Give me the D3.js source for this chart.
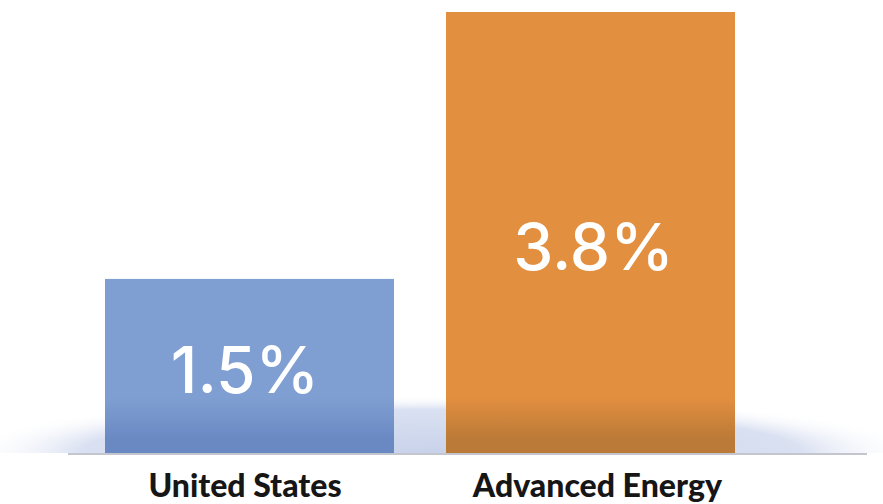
<!DOCTYPE html>
<html>
<head>
<meta charset="utf-8">
<script src="https://cdn.jsdelivr.net/npm/d3@7"></script>
<style>
  body { margin: 0; background: #fff; }
  svg { display: block; }
</style>
</head>
<body>
<div id="chart"></div>
<script>
var categories = ["United States", "Advanced Energy"];
var values = [1.5, 3.8];
var labels = ["1.5%", "3.8%"];
var colors = ["#7f9fd2", "#e28f40"];
var darkColors = ["#6a89c3", "#bb7a37"];

var width = 883, height = 504,
    baseline = 453;

var svg = d3.select("#chart").append("svg")
    .attr("width", width)
    .attr("height", height);

var defs = svg.append("defs");

// soft bluish glow along the floor
var glow = defs.append("radialGradient")
    .attr("id", "glow")
    .attr("cx", "50%").attr("cy", "50%").attr("r", "50%");
glow.append("stop").attr("offset", "0%").attr("stop-color", "#c8d2ea").attr("stop-opacity", 1);
glow.append("stop").attr("offset", "75%").attr("stop-color", "#d3dbef").attr("stop-opacity", 0.85);
glow.append("stop").attr("offset", "100%").attr("stop-color", "#ffffff").attr("stop-opacity", 0);

colors.forEach(function(c, i) {
  var lg = defs.append("linearGradient")
      .attr("id", "bar" + i)
      .attr("gradientUnits", "userSpaceOnUse")
      .attr("x1", 0).attr("x2", 0)
      .attr("y1", 398).attr("y2", baseline);
  lg.append("stop").attr("offset", "0%").attr("stop-color", c);
  lg.append("stop").attr("offset", "75%").attr("stop-color", darkColors[i]);
  lg.append("stop").attr("offset", "100%").attr("stop-color", darkColors[i]);
});

var x = d3.scaleBand()
    .domain(categories)
    .range([68, 772])
    .paddingInner(0.1525)
    .paddingOuter(0.1085);

var y = d3.scaleLinear()
    .domain([0, 3.8])
    .range([baseline, 12]);

// labels aren't quite centred on the bars in the original
var nudge = [-4.5, 3];

svg.append("ellipse")
    .attr("cx", width / 2)
    .attr("cy", baseline)
    .attr("rx", 480)
    .attr("ry", 58)
    .attr("fill", "url(#glow)");

svg.append("rect")
    .attr("x", 0).attr("y", baseline)
    .attr("width", width).attr("height", height - baseline)
    .attr("fill", "#fff");

svg.selectAll(".bar")
    .data(values)
  .enter().append("rect")
    .attr("class", "bar")
    .attr("x", function(d, i) { return x(categories[i]); })
    .attr("y", function(d) { return y(d); })
    .attr("width", x.bandwidth())
    .attr("height", function(d) { return y(0) - y(d); })
    .attr("fill", function(d, i) { return "url(#bar" + i + ")"; });

svg.append("line")
    .attr("x1", 68).attr("x2", 867)
    .attr("y1", baseline + 1).attr("y2", baseline + 1)
    .attr("stroke", "#c3c6ce")
    .attr("stroke-width", 2);

svg.selectAll(".value")
    .data(values)
  .enter().append("text")
    .attr("class", "value")
    .attr("x", function(d, i) { return x(categories[i]) + x.bandwidth() / 2 + nudge[i]; })
    .attr("y", function(d, i) { return i === 0 ? 393 : 270; })
    .attr("text-anchor", "middle")
    .attr("fill", "#fff")
    .style("font-family", "Inter, Lato, sans-serif")
    .style("font-weight", "500")
    .style("font-size", "64px")
    .text(function(d, i) { return labels[i]; });

svg.selectAll(".cat")
    .data(categories)
  .enter().append("text")
    .attr("class", "cat")
    .attr("x", function(d, i) { return x(d) + x.bandwidth() / 2 + nudge[i] * (i ? 2.3 : 1); })
    .attr("y", 497)
    .attr("text-anchor", "middle")
    .attr("fill", "#161616")
    .style("font-family", "Lato, sans-serif")
    .style("font-weight", "900")
    .style("font-size", "32px")
    .text(function(d) { return d; });
</script>
</body>
</html>
